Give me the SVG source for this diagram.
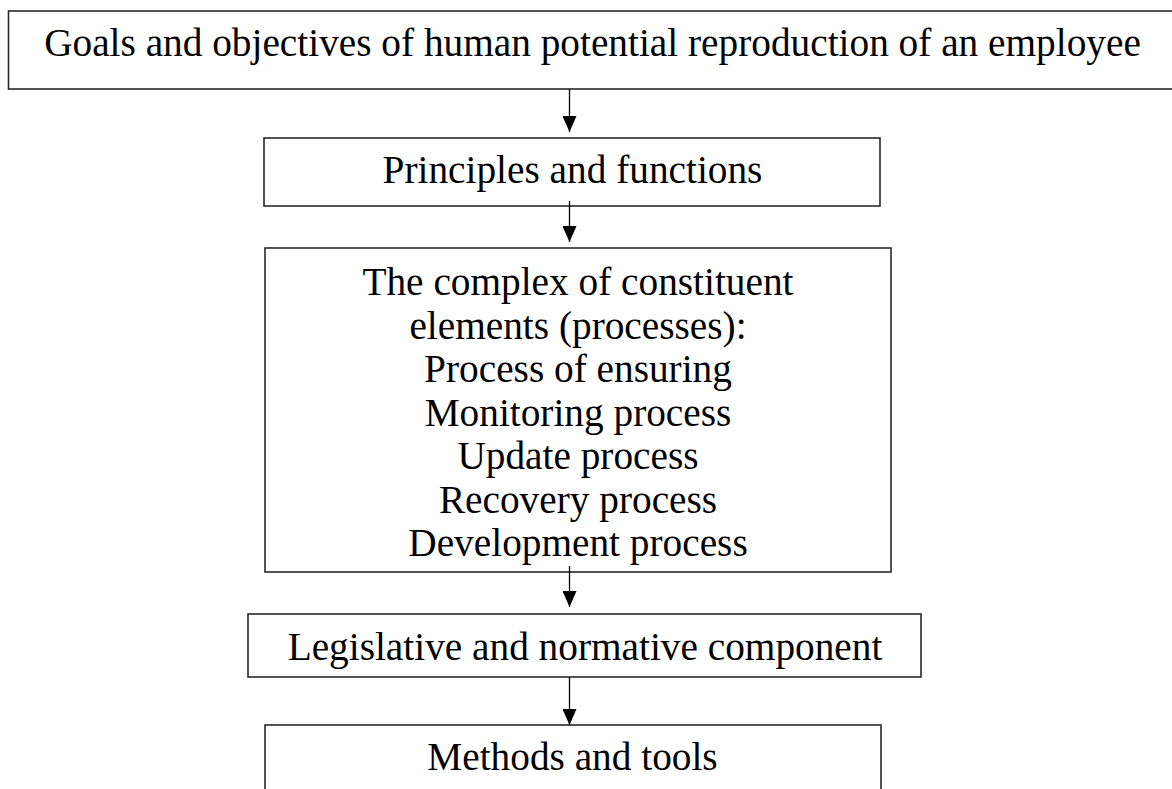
<svg xmlns="http://www.w3.org/2000/svg" width="1172" height="789" viewBox="0 0 1172 789">
<style>
.box{fill:#fff;stroke:#2a2a2a;stroke-width:1.6}
.t{font-family:"Liberation Serif","Times New Roman",serif;font-size:39.3px;fill:#000;text-anchor:middle}
.c{stroke:#000;stroke-width:1.3;fill:none}
</style>
<defs>
<marker id="ah" markerUnits="userSpaceOnUse" markerWidth="16" markerHeight="14" viewBox="0 0 16 14" refX="16" refY="7" orient="auto">
<path d="M0,0 L16,7 L0,14 Z" fill="#000"/>
</marker>
</defs>
<rect width="1172" height="789" fill="#fff"/>
<g id="n1"><rect class="box" x="8.5" y="11" width="1175" height="78"/><text class="t" x="592.5" y="56">Goals and objectives of human potential reproduction of an employee</text></g>
<g id="n2"><rect class="box" x="264" y="138" width="616" height="68"/><text class="t" x="572.5" y="183">Principles and functions</text></g>
<g id="n3"><rect class="box" x="265" y="248" width="626" height="324"/>
<text class="t" x="578" y="295">The complex of constituent</text>
<text class="t" x="578" y="338.5">elements (processes):</text>
<text class="t" x="578" y="382">Process of ensuring</text>
<text class="t" x="578" y="425.5">Monitoring process</text>
<text class="t" x="578" y="469">Update process</text>
<text class="t" x="578" y="512.5">Recovery process</text>
<text class="t" x="578" y="556">Development process</text>
</g>
<g id="n4"><rect class="box" x="248" y="614" width="673" height="63"/><text class="t" x="585" y="660">Legislative and normative component</text></g>
<g id="n5"><rect class="box" x="265" y="725" width="616" height="80"/><text class="t" x="572.5" y="770">Methods and tools</text></g>
<g id="connectors">
<path class="c" d="M569.5,89 L569.5,132" marker-end="url(#ah)"/>
<path class="c" d="M569.5,201 L569.5,242" marker-end="url(#ah)"/>
<path class="c" d="M569.5,566 L569.5,607" marker-end="url(#ah)"/>
<path class="c" d="M569.5,677 L569.5,725" marker-end="url(#ah)"/>
</g>
</svg>
